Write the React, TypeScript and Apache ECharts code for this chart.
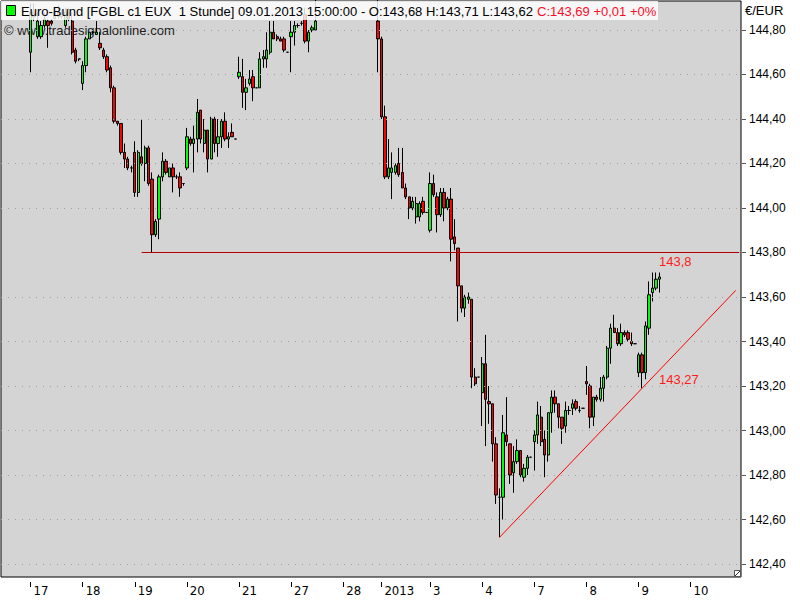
import React, { useEffect, useRef } from 'react';
import * as echarts from 'echarts';

// Trading days shown on the time axis (hourly bars per day)
const days = [
  { label: '', bars: 8 },
  { label: '17', bars: 15 },
  { label: '18', bars: 15 },
  { label: '19', bars: 15 },
  { label: '20', bars: 15 },
  { label: '21', bars: 15 },
  { label: '27', bars: 15 },
  { label: '28', bars: 11 },
  { label: '2013', bars: 14 },
  { label: '3', bars: 15 },
  { label: '4', bars: 15 },
  { label: '7', bars: 15 },
  { label: '8', bars: 15 },
  { label: '9', bars: 15 },
  { label: '10', bars: 15 },
];

// OHLC per bar: [open, close, low, high]; null = outside the visible price range
const dec14 = [null, null, null, null, null, null, null, null];
const dec17 = [
  [144.70, 144.88, 144.61, 144.92],
  [144.88, 144.86, 144.84, 144.92],
  [144.77, 144.84, 144.76, 144.88],
  [144.77, 144.82, 144.76, 144.84],
  [144.82, 144.85, 144.81, 144.88],
  [144.84, 144.82, 144.72, 144.85],
  [144.84, 144.83, 144.82, 144.85],
  [144.85, 144.88, 144.85, 144.90],
  [144.88, 144.86, 144.85, 144.91],
  [144.86, 144.87, 144.85, 144.89],
  [144.82, 144.88, 144.81, 144.90],
  [144.88, 144.85, 144.84, 144.90],
  [144.84, 144.70, 144.69, 144.88],
  [144.71, 144.66, 144.65, 144.72],
  [144.67, 144.67, 144.66, 144.67],
];
const dec18 = [
  [144.56, 144.64, 144.53, 144.66],
  [144.64, 144.76, 144.61, 144.77],
  [144.76, 144.79, 144.76, 144.79],
  [144.79, 144.79, 144.78, 144.80],
  [144.78, 144.79, 144.78, 144.84],
  [144.74, 144.72, 144.71, 144.79],
  [144.71, 144.68, 144.67, 144.72],
  [144.68, 144.62, 144.61, 144.69],
  [144.63, 144.54, 144.52, 144.64],
  [144.54, 144.39, 144.38, 144.55],
  [144.39, 144.38, 144.37, 144.39],
  [144.38, 144.25, 144.24, 144.38],
  [144.25, 144.22, 144.18, 144.29],
  [144.22, 144.18, 144.17, 144.23],
  [144.18, 144.18, 144.16, 144.19],
];
const dec19 = [
  [144.25, 144.07, 144.05, 144.30],
  [144.07, 144.25, 144.05, 144.26],
  [144.23, 144.20, 144.19, 144.40],
  [144.20, 144.27, 144.12, 144.28],
  [144.27, 144.11, 144.10, 144.28],
  [144.13, 143.88, 143.80, 144.16],
  [143.88, 143.94, 143.87, 143.95],
  [143.95, 144.14, 143.86, 144.15],
  [144.14, 144.21, 144.12, 144.25],
  [144.21, 144.16, 144.15, 144.22],
  [144.14, 144.18, 144.14, 144.18],
  [144.18, 144.14, 144.07, 144.20],
  [144.14, 144.14, 144.13, 144.15],
  [144.14, 144.09, 144.05, 144.16],
  [144.11, 144.11, 144.10, 144.11],
];
const dec20 = [
  [144.18, 144.32, 144.17, 144.36],
  [144.31, 144.29, 144.28, 144.32],
  [144.29, 144.31, 144.16, 144.37],
  [144.31, 144.43, 144.25, 144.49],
  [144.44, 144.31, 144.29, 144.44],
  [144.29, 144.35, 144.25, 144.40],
  [144.35, 144.22, 144.16, 144.35],
  [144.22, 144.40, 144.22, 144.41],
  [144.40, 144.29, 144.25, 144.41],
  [144.29, 144.32, 144.23, 144.40],
  [144.32, 144.39, 144.27, 144.40],
  [144.39, 144.31, 144.30, 144.43],
  [144.31, 144.32, 144.27, 144.34],
  [144.34, 144.32, 144.32, 144.38],
  [144.31, 144.31, 144.31, 144.31],
];
const dec21 = [
  [144.59, 144.61, 144.58, 144.68],
  [144.59, 144.52, 144.45, 144.67],
  [144.52, 144.54, 144.44, 144.58],
  [144.56, 144.58, 144.55, 144.62],
  [144.59, 144.54, 144.48, 144.62],
  [144.54, 144.54, 144.54, 144.54],
  [144.54, 144.67, 144.54, 144.70],
  [144.67, 144.68, 144.63, 144.71],
  [144.67, 144.71, 144.63, 144.79],
  [144.70, 144.79, 144.69, 144.84],
  [144.79, 144.76, 144.76, 144.84],
  [144.77, 144.76, 144.75, 144.78],
  [144.76, 144.75, 144.75, 144.77],
  [144.76, 144.71, 144.70, 144.77],
  [144.70, 144.70, 144.70, 144.70],
];
const dec27 = [
  [144.77, 144.79, 144.61, 144.84],
  [144.79, 144.82, 144.73, 144.84],
  [144.82, 144.82, 144.81, 144.83],
  [144.83, 144.83, 144.82, 144.84],
  [144.87, 144.75, 144.74, 144.90],
  [144.75, 144.79, 144.70, 144.80],
  [144.80, 144.81, 144.79, 144.82],
  [144.80, 144.84, 144.80, 144.95],
  null, null, null, null, null, null, null,
];
const dec28 = [
  null, null, null, null, null, null, null, null, null, null,
  [144.84, 144.76, 144.61, 144.95],
];
const jan2 = [
  [144.76, 144.41, 144.40, 144.77],
  [144.41, 144.14, 144.13, 144.46],
  [144.14, 144.18, 144.13, 144.31],
  [144.16, 144.18, 144.04, 144.25],
  [144.16, 144.19, 144.15, 144.20],
  [144.20, 144.15, 144.14, 144.27],
  [144.16, 144.09, 144.09, 144.27],
  [144.09, 144.05, 144.04, 144.11],
  [144.05, 144.00, 143.95, 144.05],
  [144.00, 144.03, 143.99, 144.05],
  [143.96, 144.02, 143.93, 144.05],
  [143.96, 144.02, 143.94, 144.03],
  [144.03, 143.98, 143.97, 144.05],
  [143.98, 143.98, 143.98, 143.98],
];
const jan3 = [
  [143.90, 144.11, 143.89, 144.16],
  [144.11, 144.06, 144.05, 144.15],
  [144.05, 143.97, 143.89, 144.07],
  [143.97, 144.07, 143.96, 144.09],
  [144.07, 144.00, 143.94, 144.09],
  [144.00, 144.04, 143.99, 144.05],
  [144.04, 143.86, 143.76, 144.09],
  [143.87, 143.84, 143.81, 143.95],
  [143.82, 143.65, 143.49, 143.82],
  [143.65, 143.55, 143.53, 143.65],
  [143.55, 143.60, 143.51, 143.61],
  [143.59, 143.60, 143.57, 143.62],
  [143.59, 143.24, 143.19, 143.59],
  [143.24, 143.21, 143.20, 143.28],
  [143.24, 143.24, 143.24, 143.24],
];
const jan4 = [
  [143.17, 143.30, 143.02, 143.33],
  [143.30, 143.14, 142.93, 143.43],
  [143.13, 143.12, 143.03, 143.20],
  [143.12, 142.94, 142.86, 143.12],
  [142.94, 142.71, 142.67, 142.97],
  [142.70, 142.70, 142.52, 142.74],
  [142.70, 142.99, 142.60, 143.07],
  [142.98, 142.95, 142.93, 143.15],
  [142.94, 142.80, 142.76, 142.94],
  [142.81, 142.86, 142.72, 142.93],
  [142.86, 142.91, 142.85, 142.96],
  [142.91, 142.80, 142.79, 142.91],
  [142.79, 142.83, 142.77, 142.85],
  [142.83, 142.88, 142.80, 142.89],
  [142.88, 142.88, 142.88, 142.88],
];
const jan7 = [
  [142.95, 142.98, 142.82, 143.00],
  [142.98, 143.07, 142.94, 143.13],
  [143.06, 142.95, 142.93, 143.11],
  [142.96, 142.89, 142.79, 143.00],
  [142.89, 143.08, 142.86, 143.08],
  [143.08, 143.15, 142.99, 143.18],
  [143.15, 143.12, 143.08, 143.18],
  [143.12, 143.06, 143.01, 143.12],
  [143.06, 143.01, 142.94, 143.06],
  [143.02, 143.09, 142.99, 143.13],
  [143.09, 143.09, 143.07, 143.11],
  [143.10, 143.12, 143.07, 143.14],
  [143.13, 143.10, 143.09, 143.14],
  [143.09, 143.09, 143.08, 143.11],
  [143.10, 143.10, 143.10, 143.10],
];
const jan8 = [
  [143.22, 143.21, 143.16, 143.29],
  [143.20, 143.06, 143.01, 143.21],
  [143.06, 143.15, 143.02, 143.15],
  [143.15, 143.14, 143.13, 143.16],
  [143.14, 143.19, 143.13, 143.24],
  [143.19, 143.24, 143.13, 143.25],
  [143.24, 143.37, 143.23, 143.38],
  [143.37, 143.46, 143.30, 143.48],
  [143.46, 143.44, 143.44, 143.52],
  [143.44, 143.39, 143.38, 143.46],
  [143.39, 143.44, 143.38, 143.48],
  [143.44, 143.43, 143.42, 143.45],
  [143.44, 143.41, 143.40, 143.45],
  [143.40, 143.39, 143.38, 143.44],
  [143.39, 143.39, 143.39, 143.39],
];
const jan9 = [
  [143.26, 143.34, 143.24, 143.35],
  [143.34, 143.26, 143.19, 143.35],
  [143.26, 143.47, 143.23, 143.49],
  [143.46, 143.61, 143.43, 143.67],
  [143.62, 143.64, 143.58, 143.71],
  [143.64, 143.68, 143.63, 143.71],
  [143.68, 143.69, 143.62, 143.71],
];

const priceTicks = [142.4, 142.6, 142.8, 143.0, 143.2, 143.4, 143.6, 143.8, 144.0, 144.2, 144.4, 144.6, 144.8];
const priceMin = 142.3416;
const priceMax = 144.9303;

// Drawn lines: [bar index, price]
const resistance = 143.8;
const resistanceLine = [[40, resistance], [212, resistance]];
const trendLine = [[143, 142.52], [211, 143.63]];
const resistanceLabel = '143,8';
const trendLabel = '143,27';

const titleBlack = 'Euro-Bund [FGBL c1 EUX  1 Stunde] 09.01.2013 15:00:00 - O:143,68 H:143,71 L:143,62 ';
const titleRed = 'C:143,69 +0,01 +0%';

const SANS = '"Liberation Sans", Arial, Helvetica, sans-serif';
const NARROW = '"Liberation Sans Narrow", "Arial Narrow", "DejaVu Sans Condensed", sans-serif';

export default function App() {
  const ref = useRef<HTMLDivElement>(null);

  useEffect(() => {
    document.body.style.margin = '0';
    if (!ref.current) return;
    const chart = echarts.init(ref.current, undefined, { renderer: 'svg' });

    const categories: string[] = [];
    days.forEach((d, di) => {
      for (let k = 0; k < d.bars; k++) categories.push(`${di}|${k}|${d.label}`);
    });
    const all = [
      ...dec14, ...dec17, ...dec18, ...dec19, ...dec20, ...dec21, ...dec27, ...dec28,
      ...jan2, ...jan3, ...jan4, ...jan7, ...jan8, ...jan9,
    ];
    const bars = categories.map((_, i) => {
      const b = all[i];
      return b ? b : ['-', '-', '-', '-'];
    });
    const isDayStart = (_i: number, v: string) => {
      const p = String(v).split('|');
      return p[1] === '0' && p[2] !== '';
    };
    const gridValues = priceTicks.filter((v) => v !== resistance);

    chart.setOption({
      animation: false,
      backgroundColor: '#ffffff',
      grid: {
        left: 1, right: 59, top: 1, bottom: 23,
        show: true, backgroundColor: '#d4d4d4', borderColor: '#000', borderWidth: 1,
      },
      xAxis: {
        type: 'category',
        data: categories,
        boundaryGap: true,
        offset: 5,
        axisLine: { show: false },
        axisTick: { show: true, alignWithLabel: true, interval: isDayStart, length: 5, lineStyle: { color: '#000' } },
        axisLabel: {
          interval: isDayStart,
          formatter: (v: string) => String(v).split('|')[2],
          align: 'left',
          padding: [0, 0, 0, 3],
          margin: 2,
          color: '#000',
          fontSize: 13,
          fontFamily: NARROW,
        },
        splitLine: { show: false },
      },
      yAxis: {
        type: 'value',
        position: 'right',
        min: priceMin,
        max: priceMax,
        offset: 1,
        axisLine: { show: false },
        axisTick: { show: true, length: 4, lineStyle: { color: '#555' }, customValues: priceTicks },
        axisLabel: {
          customValues: priceTicks,
          margin: 7,
          formatter: (v: number) => v.toFixed(2).replace('.', ','),
          color: '#000',
          fontSize: 12,
          fontFamily: SANS,
        },
        splitLine: { show: false },
      },
      series: [
        {
          type: 'line',
          data: [],
          z: 1,
          silent: true,
          markLine: {
            silent: true,
            symbol: 'none',
            label: { show: false },
            lineStyle: { color: '#a0a0a0', type: [1, 6], width: 1 },
            data: gridValues.map((v) => ({ yAxis: v })),
          },
        },
        {
          type: 'candlestick',
          data: bars,
          barWidth: 2.8,
          z: 2,
          itemStyle: {
            color: '#00ff00',
            color0: '#ff0000',
            borderColor: '#000',
            borderColor0: '#000',
            borderColorDoji: '#000',
            borderWidth: 1,
          },
        },
        {
          type: 'line',
          data: resistanceLine,
          symbol: 'none',
          silent: true,
          z: 3,
          lineStyle: { color: '#b00000', width: 1 },
        },
        {
          type: 'line',
          data: trendLine,
          symbol: 'none',
          silent: true,
          z: 3,
          lineStyle: { color: '#ff0000', width: 1 },
        },
      ],
      graphic: [
        {
          type: 'text', x: 4, y: 30, z: 1, silent: true,
          style: { text: '© www.tradesignalonline.com', fill: '#202020', font: `13px ${SANS}`, verticalAlign: 'middle' },
        },
        {
          type: 'rect', z: 10, silent: true,
          shape: { x: 1, y: 1, width: 657, height: 19 },
          style: { fill: 'rgba(255,255,255,0.82)' },
        },
        {
          type: 'rect', z: 11, silent: true,
          shape: { x: 6.5, y: 5.5, width: 9, height: 10 },
          style: { fill: '#00ff00', stroke: '#000', lineWidth: 1 },
        },
        {
          type: 'text', x: 21, y: 11, z: 11, silent: true,
          style: {
            text: `{b|${titleBlack}}{r|${titleRed}}`,
            verticalAlign: 'middle',
            font: `13px ${SANS}`,
            rich: {
              b: { fill: '#000', fontSize: 13, fontFamily: SANS },
              r: { fill: '#ff0a28', fontSize: 13, fontFamily: SANS },
            },
          },
        },
        {
          type: 'text', x: 745, y: 10, z: 11, silent: true,
          style: { text: '€/EUR', fill: '#000', font: `13px ${SANS}`, verticalAlign: 'middle' },
        },
        {
          type: 'text', x: 659, y: 261, z: 5, silent: true,
          style: { text: resistanceLabel, fill: '#ff1a1a', font: `13px ${SANS}`, verticalAlign: 'middle' },
        },
        {
          type: 'text', x: 659, y: 379, z: 5, silent: true,
          style: { text: trendLabel, fill: '#ff1a1a', font: `13px ${SANS}`, verticalAlign: 'middle' },
        },
        {
          type: 'rect', z: 11, silent: true,
          shape: { x: 734.5, y: 570.5, width: 6, height: 6 },
          style: { fill: '#ffffff', stroke: '#555', lineWidth: 1 },
        },
        {
          type: 'line', z: 12, silent: true,
          shape: { x1: 735, y1: 576, x2: 740, y2: 571 },
          style: { stroke: '#333', lineWidth: 1 },
        },
      ],
    });

    return () => chart.dispose();
  }, []);

  return <div ref={ref} style={{ width: 800, height: 600, background: '#fff' }} />;
}
